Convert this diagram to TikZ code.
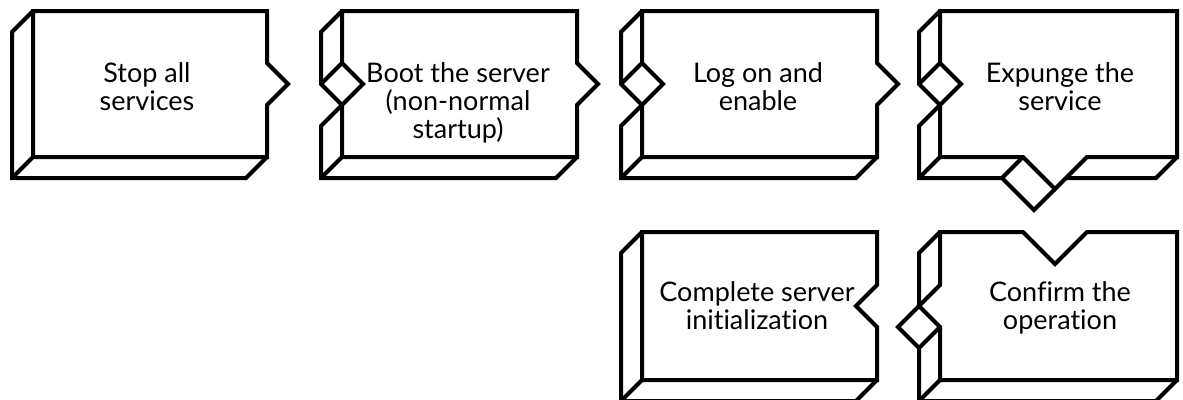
\documentclass[tikz,border=0pt]{standalone}
\usepackage{fontspec}
\setmainfont{Lato}[Ligatures=NoCommon]
\begin{document}
\begin{tikzpicture}[x=1pt,y=-1pt,
  edge/.style={draw=black,line width=4pt,line join=miter},
  label/.style={align=center,inner sep=0pt,anchor=base,font=\fontsize{27pt}{28pt}\selectfont}]
\useasboundingbox (0,0) rectangle (1183,399);
% Box 1
\draw[edge] (33,11) -- (267,11) -- (267,63) -- (288,84) -- (267,105) -- (267,157) -- (33,157) -- cycle;
\draw[edge] (33,11) -- (12,32) -- (12,178) -- (246,178) -- (267,157);
\draw[edge] (33,157) -- (12,178);
% Box 2
\draw[edge] (342,11) -- (577,11) -- (577,63) -- (598,84) -- (577,105) -- (577,157) -- (342,157) -- (342,105) -- (363,84) -- (342,63) -- cycle;
\draw[edge] (342,11) -- (321,32) -- (321,84) -- (342,105);
\draw[edge] (342,63) -- (321,84);
\draw[edge] (342,105) -- (321,126) -- (321,178) -- (556,178) -- (577,157);
\draw[edge] (342,157) -- (321,178);
% Box 3
\draw[edge] (642,11) -- (877,11) -- (877,63) -- (898,84) -- (877,105) -- (877,157) -- (642,157) -- (642,105) -- (663,84) -- (642,63) -- cycle;
\draw[edge] (642,11) -- (621,32) -- (621,84) -- (642,105);
\draw[edge] (642,63) -- (621,84);
\draw[edge] (642,105) -- (621,126) -- (621,178) -- (856,178) -- (877,157);
\draw[edge] (642,157) -- (621,178);
% Box 4
\draw[edge] (940,11) -- (1177,11) -- (1177,157) -- (1087,157) -- (1055,189) -- (1023,157) -- (940,157) -- (940,105) -- (961,84) -- (940,63) -- cycle;
\draw[edge] (940,11) -- (919,32) -- (919,84) -- (940,105);
\draw[edge] (940,63) -- (919,84);
\draw[edge] (940,105) -- (919,126) -- (919,178) -- (1002,178) -- (1023,157);
\draw[edge] (940,157) -- (919,178);
\draw[edge] (1002,178) -- (1034,210) -- (1055,189);
\draw[edge] (1066,178) -- (1156,178) -- (1177,157);
% Box 5
\draw[edge] (642,232) -- (877,232) -- (877,285) -- (856,306) -- (877,327) -- (877,380) -- (642,380) -- cycle;
\draw[edge] (642,232) -- (621,253) -- (621,401) -- (856,401) -- (877,380);
\draw[edge] (642,380) -- (621,401);
% Box 6
\draw[edge] (940,232) -- (1023,232) -- (1055,264) -- (1087,232) -- (1177,232) -- (1177,380) -- (940,380) -- (940,327) -- (919,306) -- (940,285) -- cycle;
\draw[edge] (940,232) -- (919,253) -- (919,306);
\draw[edge] (919,306) -- (898,327) -- (919,348) -- (940,327);
\draw[edge] (919,348) -- (919,401) -- (1156,401) -- (1177,380);
\draw[edge] (940,380) -- (919,401);
% Texts (anchor base = last line baseline)
\node[label] (t1) at (147,110) {Stop all\\services};
\node[label] (t2) at (458,138) {Boot the server\\(non-normal\\startup)};
\node[label] (t3) at (758,110) {Log on and\\enable};
\node[label] (t4) at (1060,110) {Expunge the\\service};
\node[label] (t5) at (757,329) {Complete server\\initialization};
\node[label] (t6) at (1060,329) {Confirm the\\operation};
\end{tikzpicture}
\end{document}
